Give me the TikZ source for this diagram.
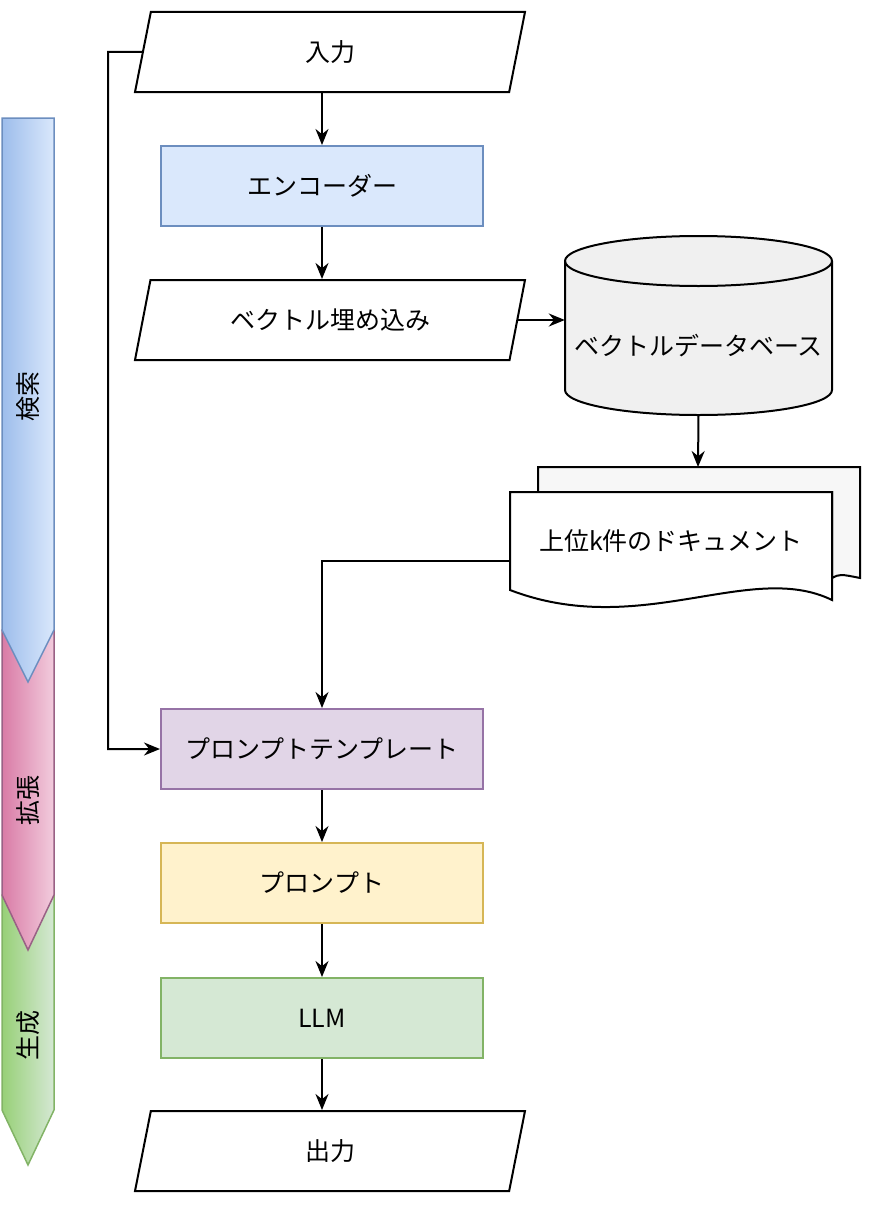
\documentclass[tikz,border=0pt]{standalone}
\usetikzlibrary{arrows.meta,shapes.geometric,positioning}
\usepackage{fontspec}
\setmainfont{Noto Sans CJK JP}
\definecolor{blueF}{HTML}{DAE8FC}\definecolor{blueD}{HTML}{6C8EBF}
\definecolor{purpF}{HTML}{E1D5E7}\definecolor{purpD}{HTML}{9673A6}
\definecolor{yelF}{HTML}{FFF2CC}\definecolor{yelD}{HTML}{D6B656}
\definecolor{grnF}{HTML}{D5E8D4}\definecolor{grnD}{HTML}{82B366}
\definecolor{pinkF}{HTML}{F2CCDD}\definecolor{pinkL}{HTML}{D97BA6}\definecolor{pinkD}{HTML}{996185}
\definecolor{blueL}{HTML}{9DBDEB}\definecolor{grnL}{HTML}{97D077}
\begin{document}
\begin{tikzpicture}[x=1pt,y=-1pt,>={Stealth[length=16pt,width=13pt]},
  box/.style={draw,line width=2pt,minimum width=322pt,minimum height=80pt,inner sep=0pt,font=\fontsize{25}{30}\selectfont},
  io/.style={draw,line width=2pt,trapezium,trapezium stretches body,trapezium left angle=55.5,trapezium right angle=124.5,
    minimum width=390pt,minimum height=80pt,inner sep=0pt,font=\fontsize{25}{30}\selectfont},
  flow/.style={->,line width=2pt},
  band/.style={line width=1.5pt,font=\fontsize{25}{30}\selectfont}]
  \useasboundingbox (0,0) rectangle (880,1215);
  % phases on the left
  \draw[band,draw=grnD,left color=grnL,right color=grnF] (2,895) -- (54,895) -- (54,1110) -- (28,1165) -- (2,1110) -- cycle;
  \draw[band,draw=pinkD,left color=pinkL,right color=pinkF] (2,630) -- (54,630) -- (54,895) -- (28,950) -- (2,895) -- cycle;
  \draw[band,draw=blueD,left color=blueL,right color=blueF] (2,118) -- (54,118) -- (54,630) -- (28,682) -- (2,630) -- cycle;
  \node[band,rotate=90] (kensaku) at (28,396) {検索};
  \node[band,rotate=90] (kakucho) at (28,800) {拡張};
  \node[band,rotate=90] (seisei) at (28,1035) {生成};
  % main flow
  \node[io] (in) at (330,52) {入力};
  \node[box,fill=blueF,draw=blueD] (enc) at (322,186) {エンコーダー};
  \node[io] (emb) at (330,320) {ベクトル埋め込み};
  \node[box,fill=purpF,draw=purpD] (tpl) at (322,749) {プロンプトテンプレート};
  \node[box,fill=yelF,draw=yelD] (prm) at (322,883) {プロンプト};
  \node[box,fill=grnF,draw=grnD] (llm) at (322,1018) {LLM};
  \node[io] (out) at (330,1151) {出力};
  % vector database
  \filldraw[line width=2pt,fill=gray!12] (565,261) -- (565,390) arc[start angle=180,end angle=0,x radius=133.5,y radius=25] -- (832,261) arc[start angle=0,end angle=-180,x radius=133.5,y radius=25] -- cycle;
  \draw[line width=2pt] (565,261) arc[start angle=180,end angle=0,x radius=133.5,y radius=25];
  \node[minimum width=267pt,minimum height=179pt,inner sep=0pt,font=\fontsize{25}{30}\selectfont,text depth=0pt] (db) at (698.5,325.5) {\raisebox{-30pt}{ベクトルデータベース}};
  % documents
  \filldraw[line width=2pt,fill=gray!6] (538,467) -- (860,467) -- (860,578) .. controls (840,574) .. (832,578) -- (832,492) -- (538,492) -- cycle;
  \filldraw[line width=2pt,fill=white] (510,492) -- (832,492) -- (832,600) .. controls (750,560) and (640,640) .. (510,590) -- cycle;
  \node[minimum width=322pt,minimum height=98pt,inner sep=0pt,font=\fontsize{25}{30}\selectfont] (docs) at (671,541) {上位k件のドキュメント};
  \coordinate (docsw) at (510,561);
  \coordinate (docsn) at (698,467);
  % connectors
  \draw[flow] (in.south -| enc.north) -- (enc);
  \draw[flow] (enc) -- (emb.north -| enc.north);
  \draw[flow] (emb.east) -- (db.west |- emb.east);
  \draw[flow] (db.south) -- (docsn);
  \draw[flow] (docsw) -| (tpl.north);
  \draw[flow] (in.west) -- (108,52) |- (tpl.west);
  \draw[flow] (tpl) -- (prm);
  \draw[flow] (prm) -- (llm);
  \draw[flow] (llm) -- (out.north -| llm.south);
\end{tikzpicture}
\end{document}
